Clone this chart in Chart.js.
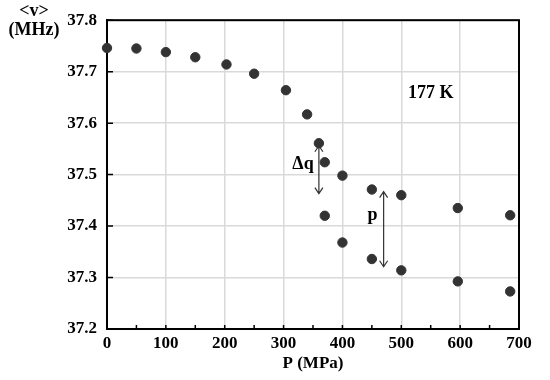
<!DOCTYPE html>
<html><head><meta charset="utf-8">
<style>html,body{margin:0;padding:0;background:#fff}#wrap{width:550px;height:380px}</style>
<script src="https://cdn.jsdelivr.net/npm/chart.js@4.4.0/dist/chart.umd.min.js"></script>
</head><body><div id="wrap"><canvas id="c" width="550" height="380"></canvas></div>
<script>
// Pressure (MPa) and mean frequency <v> (MHz)
const upperP = [0, 50, 100, 150, 203, 250, 304, 340, 360, 370, 400, 450, 500, 596, 685];
const upperV = [37.746, 37.745, 37.738, 37.728, 37.714, 37.696, 37.664, 37.617, 37.561, 37.524, 37.498, 37.471, 37.460, 37.435, 37.421];
const lowerP = [370, 400, 450, 500, 596, 685];
const lowerV = [37.420, 37.368, 37.336, 37.314, 37.2925, 37.273];

const xTicks = [0, 100, 200, 300, 400, 500, 600, 700];
const yTicks = [37.2, 37.3, 37.4, 37.5, 37.6, 37.7, 37.8];
const yTickLabels = ['37.2', '37.3', '37.4', '37.5', '37.6', '37.7', '37.8'];

// annotation arrows (data coords)
const arrowP = [360, 470];
const arrowTop = [37.556, 37.467];
const arrowBottom = [37.463, 37.321];
// annotation texts
const noteText = ['\u0394q', 'p', '177 K'];
const noteP = [333, 451, 550];
const noteV = [37.52, 37.42, 37.657];

const FONT = "'Liberation Serif', 'Times New Roman', serif";
const pointColor = '#333333';

const overlay = {
  id: 'overlay',
  beforeDatasetsDraw(chart) {
    const {ctx, chartArea: a, scales: {x, y}} = chart;
    ctx.save();
    ctx.strokeStyle = '#000';
    ctx.lineWidth = 1.5;
    ctx.beginPath();
    yTicks.forEach(v => { const py = y.getPixelForValue(v); ctx.moveTo(a.left, py); ctx.lineTo(a.left + 6, py); });
    for (let i = 0; i < xTicks.length; i++) {
      const vals = [xTicks[i]];
      if (i < xTicks.length - 1) vals.push((xTicks[i] + xTicks[i + 1]) / 2);
      vals.forEach(v => { const px = x.getPixelForValue(v); ctx.moveTo(px, a.bottom); ctx.lineTo(px, a.bottom - 4); });
    }
    ctx.stroke();
    ctx.lineWidth = 2;
    ctx.strokeRect(a.left, a.top, a.right - a.left, a.bottom - a.top);
    ctx.fillStyle = '#000';
    ctx.font = 'bold 18px ' + FONT;
    ctx.textAlign = 'center';
    ctx.textBaseline = 'middle';
    ctx.fillText('<v>', 34, 11);
    ctx.fillText('(MHz)', 34, 30);
    ctx.restore();
  },
  afterDatasetsDraw(chart) {
    const {ctx, scales: {x, y}} = chart;
    ctx.save();
    ctx.strokeStyle = '#333';
    ctx.lineWidth = 1.2;
    for (let i = 0; i < arrowP.length; i++) {
      const px = x.getPixelForValue(arrowP[i]);
      const t = y.getPixelForValue(arrowTop[i]);
      const b = y.getPixelForValue(arrowBottom[i]);
      ctx.beginPath();
      ctx.moveTo(px, t); ctx.lineTo(px, b);
      ctx.moveTo(px - 4, t + 6); ctx.lineTo(px, t); ctx.lineTo(px + 4, t + 6);
      ctx.moveTo(px - 4, b - 6); ctx.lineTo(px, b); ctx.lineTo(px + 4, b - 6);
      ctx.stroke();
    }
    ctx.fillStyle = '#000';
    ctx.font = 'bold 18px ' + FONT;
    ctx.textAlign = 'center';
    ctx.textBaseline = 'middle';
    for (let i = 0; i < noteText.length; i++) {
      ctx.fillText(noteText[i], x.getPixelForValue(noteP[i]), y.getPixelForValue(noteV[i]));
    }
    ctx.restore();
  }
};

const toXY = (ps, vs) => ps.map((p, i) => ({x: p, y: vs[i]}));

new Chart(document.getElementById('c'), {
  type: 'scatter',
  data: {
    datasets: [
      {data: toXY(upperP, upperV), backgroundColor: pointColor, borderColor: pointColor, pointRadius: 4.7, pointHoverRadius: 4.7, clip: false},
      {data: toXY(lowerP, lowerV), backgroundColor: pointColor, borderColor: pointColor, pointRadius: 4.7, pointHoverRadius: 4.7, clip: false}
    ]
  },
  options: {
    responsive: false,
    animation: false,
    devicePixelRatio: 1,
    layout: {padding: {left: 0, top: 12, right: 31, bottom: 0}},
    plugins: {legend: {display: false}, tooltip: {enabled: false}},
    scales: {
      x: {
        type: 'linear', min: 0, max: 700,
        afterBuildTicks: s => { s.ticks = xTicks.map(v => ({value: v})); },
        afterFit: s => { s.height = 51; },
        grid: {color: '#d9d9d9', lineWidth: 1.5, drawTicks: false},
        border: {color: '#000', width: 2},
        ticks: {color: '#000', padding: 4, font: {family: FONT, size: 17, weight: 'bold'}, maxRotation: 0,
          callback: v => String(v)},
        title: {display: true, text: 'P (MPa)', color: '#000', padding: {top: 0, bottom: 6}, font: {family: FONT, size: 17, weight: 'bold'}}
      },
      y: {
        type: 'linear', min: 37.2, max: 37.8,
        afterBuildTicks: s => { s.ticks = yTicks.map(v => ({value: v})); },
        afterFit: s => { s.width = 107; },
        grid: {color: '#d9d9d9', lineWidth: 1.5, drawTicks: false},
        border: {color: '#000', width: 2},
        ticks: {color: '#000', padding: 10, font: {family: FONT, size: 17, weight: 'bold'},
          callback: v => { const i = yTicks.findIndex(t => Math.abs(t - v) < 1e-6); return i >= 0 ? yTickLabels[i] : ''; }}
      }
    }
  },
  plugins: [overlay]
});
</script></body></html>
